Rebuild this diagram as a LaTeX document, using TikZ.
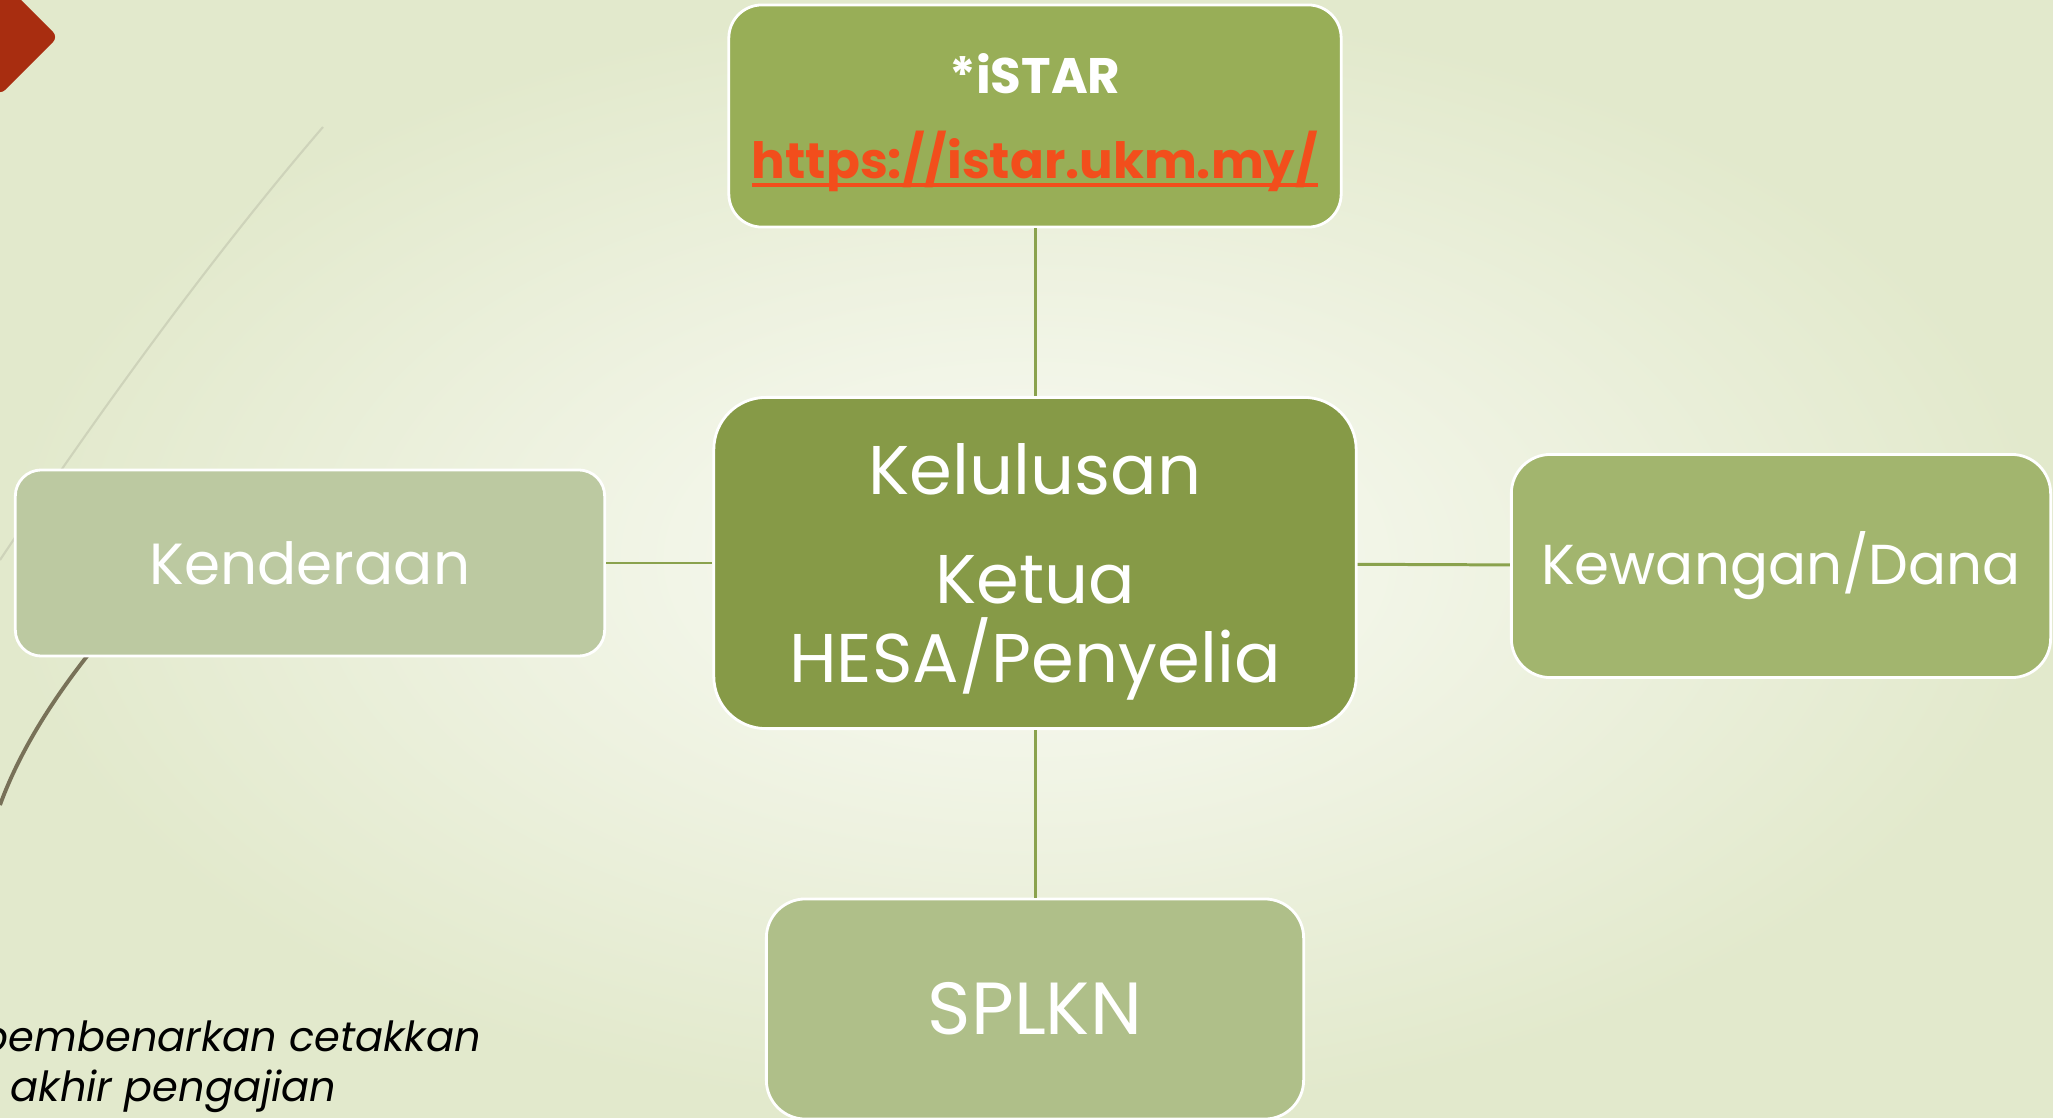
\documentclass[tikz,border=0pt]{standalone}
\usepackage{fontspec}
\setmainfont{Poppins}
\usetikzlibrary{positioning}

\newcommand{\linkline}[1]{\setbox0=\hbox{#1}\rlap{\rule[-2.4pt]{\wd0}{1.2pt}}\box0}

\definecolor{bgin}{RGB}{250,251,245}
\definecolor{bgout}{RGB}{226,233,204}
\definecolor{istarfill}{RGB}{152,174,87}
\definecolor{hesafill}{RGB}{134,154,71}
\definecolor{kendfill}{RGB}{188,201,161}
\definecolor{kewfill}{RGB}{162,181,110}
\definecolor{splknfill}{RGB}{175,191,137}
\definecolor{linkred}{RGB}{242,78,28}
\definecolor{spokeline}{RGB}{138,162,77}
\definecolor{cornerred}{RGB}{168,45,16}
\definecolor{lightarc}{RGB}{206,211,186}
\definecolor{darkarc}{RGB}{120,113,88}

\begin{document}
\begin{tikzpicture}[x=0.01cm, y=-0.01cm]
    \useasboundingbox (0,0) rectangle (2053,1118);
    \shade[inner color=bgin, outer color=bgout] (0,0) rectangle (2053,1118);

    % corner and arcs of the slide
    \fill[cornerred, rounded corners=2pt] (0,-21) -- (58,37) -- (0,95) -- (-58,37) -- cycle;
    \draw[lightarc, line width=0.6pt] (323,127) .. controls (200,270) and (80,440) .. (0,560);
    \draw[darkarc, line width=1.1pt] (100,640) .. controls (55,695) and (20,750) .. (0,805);

\begin{scope}[every node/.style={draw=white, line width=0.8pt, text=white, align=center}]
    \node[fill=istarfill, rounded corners=0.33cm, minimum width=6.12cm, minimum height=2.22cm,
          text depth=0pt, font=\fontsize{14.2}{24.2}\selectfont] (istar) at (1035,116)
          {\textbf{*iSTAR}\\ \textcolor{linkred}{\linkline{\textbf{https://istar.ukm.my/}}}};
    \node[fill=hesafill, rounded corners=0.52cm, minimum width=6.42cm, minimum height=3.31cm,
          text depth=0pt, font=\fontsize{19.6}{22.5}\selectfont] (hesa) at (1035,563)
          {Kelulusan\\[8.5pt] Ketua\\ HESA/Penyelia};
    \node[fill=kendfill, rounded corners=0.26cm, minimum width=5.89cm, minimum height=1.86cm,
          font=\fontsize{16.5}{20}\selectfont] (kend) at (310,563) {Kenderaan};
    \node[fill=kewfill, rounded corners=0.39cm, minimum width=5.39cm, minimum height=2.23cm,
          font=\fontsize{16}{20}\selectfont] (kew) at (1781,566) {Kewangan/Dana};
    \node[fill=splknfill, rounded corners=0.39cm, minimum width=5.37cm, minimum height=2.2cm,
          font=\fontsize{21}{25}\selectfont] (splkn) at (1035,1009) {SPLKN};
\end{scope}

\begin{scope}[every edge/.style={draw=spokeline, line width=0.85pt}]
    \path [-] (istar) edge (hesa);
    \path [-] (kend) edge (hesa);
    \path [-] (hesa) edge (kew);
    \path [-] (hesa) edge (splkn);
\end{scope}

\begin{scope}[every node/.style={anchor=base west, inner sep=0pt, font=\fontsize{11.8}{14}\selectfont\itshape}]
    \node (note1) at (-20,1051) {pembenarkan cetakkan};
    \node (note2) at (10,1101) {akhir pengajian};
\end{scope}
\end{tikzpicture}
\end{document}
